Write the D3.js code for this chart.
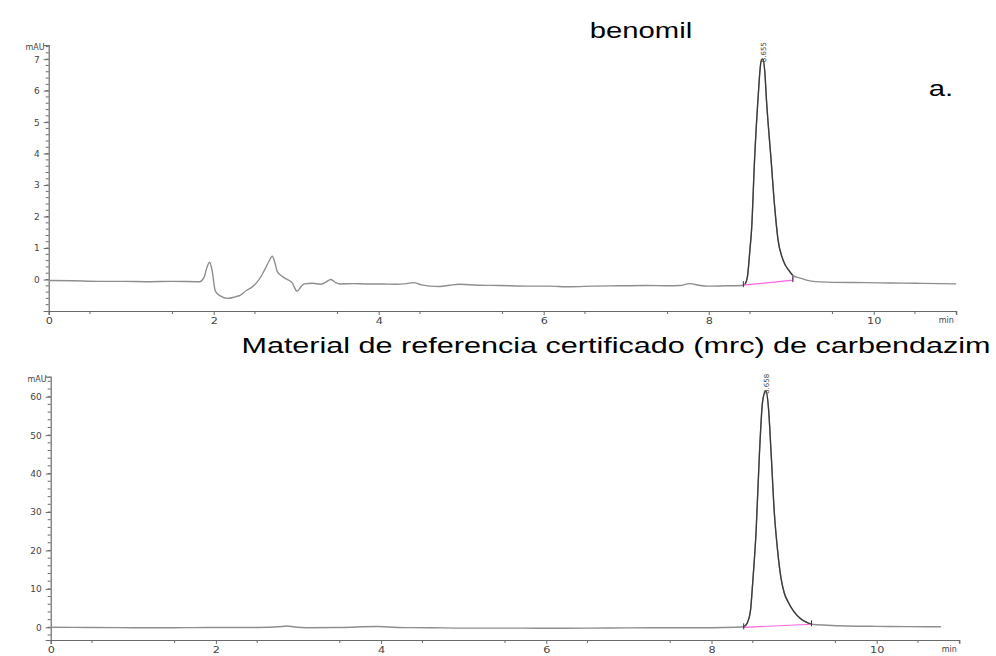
<!DOCTYPE html>
<html>
<head>
<meta charset="utf-8">
<script src="https://cdn.jsdelivr.net/npm/d3@7"></script>
<style>
  html, body { margin: 0; padding: 0; background: #fff; }
  svg { display: block; }
  .title { font-family: "Liberation Sans", Arial, sans-serif; fill: #000; }
  .tick text, .unit { font-family: "DejaVu Sans", sans-serif; fill: #444; }
</style>
</head>
<body>
<svg id="chart" width="996" height="656"></svg>
<script>
// Benomil sample trace: [time (min), signal (mAU)]
const benomilTrace = [
  [0.00,-0.03],[0.30,-0.04],[0.60,-0.06],[0.90,-0.06],[1.20,-0.07],[1.50,-0.06],[1.83,-0.07],
  [1.88,0.05],[1.92,0.40],[1.95,0.55],[1.98,0.30],[2.02,-0.37],[2.08,-0.52],[2.17,-0.60],
  [2.26,-0.55],[2.32,-0.50],[2.40,-0.34],[2.46,-0.25],[2.52,-0.10],[2.57,0.08],[2.62,0.32],
  [2.67,0.58],[2.71,0.74],[2.74,0.55],[2.77,0.26],[2.83,0.10],[2.88,0.02],[2.95,-0.10],
  [3.01,-0.37],[3.06,-0.22],[3.10,-0.14],[3.20,-0.12],[3.29,-0.15],[3.36,-0.08],[3.42,0.00],
  [3.48,-0.10],[3.53,-0.14],[3.70,-0.13],[3.85,-0.14],[4.05,-0.14],[4.20,-0.15],[4.34,-0.13],
  [4.42,-0.10],[4.52,-0.17],[4.62,-0.21],[4.74,-0.22],[4.86,-0.18],[4.98,-0.15],[5.20,-0.18],
  [5.47,-0.19],[5.80,-0.21],[6.05,-0.21],[6.32,-0.23],[6.60,-0.21],[6.90,-0.20],[7.25,-0.19],
  [7.50,-0.20],[7.65,-0.19],[7.77,-0.13],[7.88,-0.18],[7.98,-0.21],[8.20,-0.20],[8.40,-0.19],
  [8.44,-0.15],[8.47,0.10],[8.50,0.95],[8.52,1.60],[8.556,3.81],[8.597,5.71],[8.635,6.93],
  [8.655,7.00],[8.68,6.60],[8.70,5.71],[8.756,3.81],[8.80,2.30],[8.84,1.27],[8.90,0.63],
  [8.98,0.26],[9.02,0.13],[9.10,0.05],[9.24,-0.05],[9.50,-0.09],[9.92,-0.10],[10.20,-0.11],
  [10.52,-0.12],[10.80,-0.13],[11.00,-0.14]
];

// Carbendazim reference material trace: [time (min), signal (mAU)]
const carbendazimTrace = [
  [0.00,0.00],[0.50,-0.05],[1.00,-0.10],[1.50,-0.10],[2.00,-0.05],[2.50,-0.05],[2.80,0.20],
  [2.86,0.35],[2.95,0.10],[3.10,-0.10],[3.50,-0.05],[3.95,0.20],[4.20,-0.05],[4.60,-0.10],
  [5.00,-0.20],[5.50,-0.20],[6.00,-0.25],[6.50,-0.20],[7.00,-0.15],[7.50,-0.10],[8.00,-0.10],
  [8.30,0.00],[8.39,0.15],[8.43,1.00],[8.47,4.00],[8.50,12.0],[8.54,25.0],[8.58,45.0],
  [8.62,59.0],[8.658,61.5],[8.69,57.0],[8.72,46.0],[8.76,30.0],[8.80,20.0],[8.84,13.0],
  [8.88,9.0],[8.93,6.5],[9.00,4.0],[9.08,2.2],[9.16,1.2],[9.21,0.80],[9.40,0.55],[9.65,0.35],
  [10.00,0.25],[10.40,0.18],[10.78,0.15]
];

// Integration windows [start, end] and their baselines [[t, v], [t, v]]
const benomilPeak = { rt: "8.655", window: [8.42, 9.02], base: [[8.42,-0.18],[9.02,-0.02]], endTop: 0.13 };
const carbPeak    = { rt: "8.658", window: [8.39, 9.21], base: [[8.39,0.00],[9.21,0.80]], endTop: 0.80 };

const xTicks = [0, 2, 4, 6, 8, 10];
const yTicksTop = [0, 1, 2, 3, 4, 5, 6, 7];
const yTicksBottom = [0, 10, 20, 30, 40, 50, 60];

const svg = d3.select("#chart");

function panel(cfg) {
  const x = d3.scaleLinear().domain([0, 11]).range(cfg.xRange);
  const y = d3.scaleLinear().domain(cfg.yDomain).range(cfg.yRange);
  const g = svg.append("g");
  const axisColor = "#6a6a6a";

  // x axis
  const xa = g.append("g").attr("transform", `translate(0,${cfg.yRange[0]})`)
    .call(d3.axisBottom(x).tickValues(xTicks).tickSize(4).tickPadding(3).tickFormat(d3.format("d")));
  xa.select(".domain").attr("stroke", axisColor).attr("stroke-width", 1.2);
  xa.selectAll(".tick line").attr("stroke", axisColor);
  xa.selectAll(".tick text").attr("font-size", 9).attr("fill", "#555")
    .attr("transform", "scale(1.25,1)");
  g.append("g").selectAll("line").data(d3.range(0.5, 11.01, 1).concat([11]))
    .join("line")
    .attr("x1", d => x(d)).attr("x2", d => x(d))
    .attr("y1", cfg.yRange[0]).attr("y2", cfg.yRange[0] + 3)
    .attr("stroke", axisColor);
  g.append("text").attr("class", "unit")
    .attr("x", x(11) - 10).attr("y", cfg.yRange[0] + 12)
    .attr("font-size", 8).attr("text-anchor", "middle").attr("fill", "#555")
    .text("min");

  // y axis
  const ya = g.append("g").attr("transform", `translate(${cfg.xRange[0]},0)`)
    .call(d3.axisLeft(y).tickValues(cfg.yTicks).tickSize(5).tickPadding(4).tickFormat(d3.format("d")));
  ya.select(".domain").attr("stroke", axisColor).attr("stroke-width", 1.2);
  ya.selectAll(".tick line").attr("stroke", axisColor);
  ya.selectAll(".tick text").attr("font-size", 9).attr("fill", "#555");
  g.append("g").selectAll("line").data(cfg.yMinor)
    .join("line")
    .attr("x1", cfg.xRange[0] - 3).attr("x2", cfg.xRange[0])
    .attr("y1", d => y(d)).attr("y2", d => y(d))
    .attr("stroke", axisColor);
  g.append("text").attr("class", "unit")
    .attr("x", cfg.xRange[0] - 4).attr("y", cfg.yRange[1] + 5)
    .attr("font-size", 8).attr("text-anchor", "end").attr("fill", "#555")
    .text("mAU");

  const line = d3.line().x(d => x(d[0])).y(d => y(d[1])).curve(d3.curveMonotoneX);

  // full trace
  g.append("path").datum(cfg.trace)
    .attr("fill", "none").attr("stroke", "#8e8e8e").attr("stroke-width", 1.4)
    .attr("d", line);

  // integrated peak segment
  const pk = cfg.peak;
  g.append("path").datum(cfg.trace.filter(d => d[0] >= pk.window[0] && d[0] <= pk.window[1]))
    .attr("fill", "none").attr("stroke", "#3a3a3a").attr("stroke-width", 1.3)
    .attr("d", line);

  // baseline
  g.append("path").datum(pk.base.concat([[pk.base[1][0], pk.endTop]]))
    .attr("fill", "none").attr("stroke", "#ff66e0").attr("stroke-width", 1.2)
    .attr("d", d3.line().x(d => x(d[0])).y(d => y(d[1])));

  // start/end markers
  g.append("g").selectAll("line").data(pk.base).join("line")
    .attr("x1", d => x(d[0])).attr("x2", d => x(d[0]))
    .attr("y1", d => y(d[1]) + 2).attr("y2", d => y(d[1]) - 4)
    .attr("stroke", "#333").attr("stroke-width", 1);

  // retention time label
  const apex = cfg.trace.reduce((a, b) => (b[1] > a[1] ? b : a));
  g.append("text")
    .attr("transform", `translate(${x(+pk.rt) + 3},${y(apex[1]) + 3}) rotate(-90)`)
    .attr("font-family", "DejaVu Sans, sans-serif")
    .attr("font-size", 7).attr("fill", "#444")
    .text(pk.rt);
}

panel({
  trace: benomilTrace, peak: benomilPeak,
  xRange: [48.7, 956.2], yRange: [311, 45], yDomain: [-1, 7.45],
  yTicks: yTicksTop, yMinor: d3.range(-8, 75, 2).map(d => d / 10)
});

panel({
  trace: carbendazimTrace, peak: carbPeak,
  xRange: [50.7, 959.3], yRange: [640, 376.7], yDomain: [-3.3, 65.2],
  yTicks: yTicksBottom, yMinor: d3.range(-2, 66, 2)
});

// titles
svg.append("text").attr("class", "title")
  .attr("x", 641).attr("y", 38).attr("text-anchor", "middle")
  .attr("font-size", 22).attr("transform", "translate(641,0) scale(1.33,1) translate(-641,0)")
  .text("benomil");
svg.append("text").attr("class", "title")
  .attr("x", 941).attr("y", 96).attr("text-anchor", "middle")
  .attr("font-size", 22).attr("transform", "translate(941,0) scale(1.33,1) translate(-941,0)")
  .text("a.");
svg.append("text").attr("class", "title")
  .attr("x", 616).attr("y", 353).attr("text-anchor", "middle")
  .attr("font-size", 22).attr("transform", "translate(616,0) scale(1.39,1) translate(-616,0)")
  .text("Material de referencia certificado (mrc) de carbendazim");
</script>
</body>
</html>
